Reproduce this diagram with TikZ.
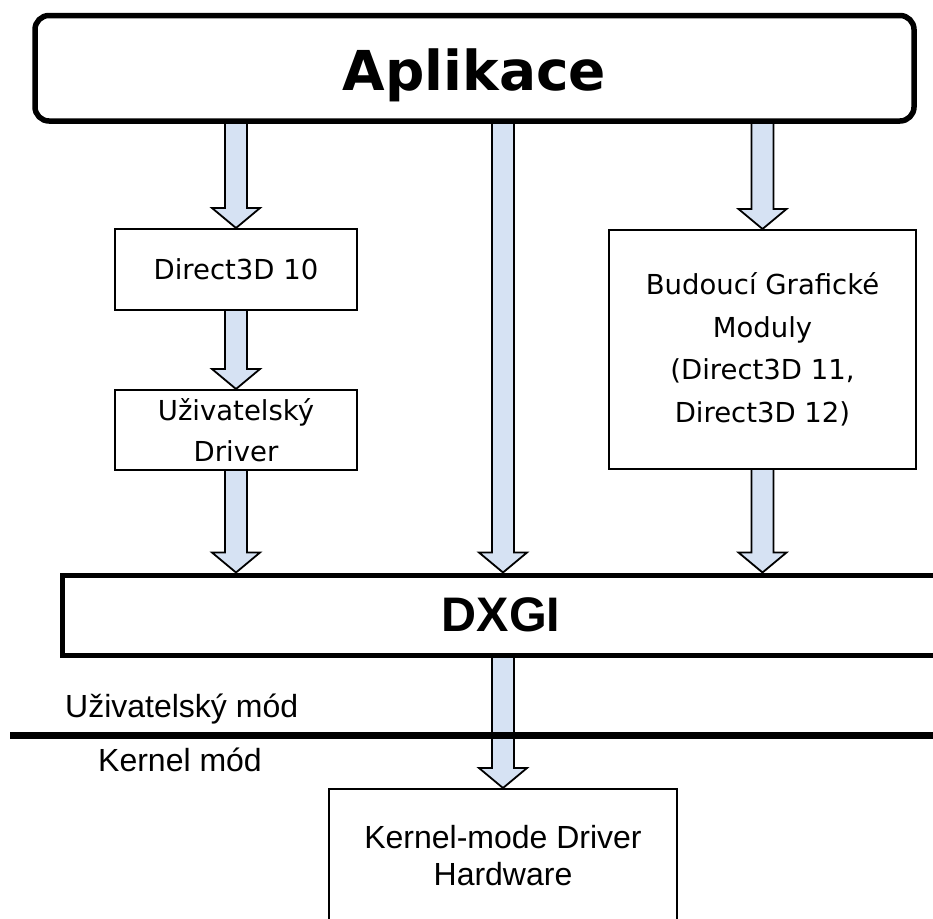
\documentclass[tikz,border=0pt]{standalone}
\usepackage{fontspec}
\setmainfont{DejaVu Sans}
\newfontfamily\arialf{Liberation Sans}
\usetikzlibrary{calc}
\pgfdeclarelayer{bg}
\pgfsetlayers{bg,main}
\definecolor{arrfill}{RGB}{214,226,243}
\tikzset{
  thinbox/.style={draw=black, line width=2pt, fill=white, inner sep=0pt, align=center,
    font=\fontsize{27.5}{41}\selectfont},
  thickbox/.style={draw=black, line width=5.5pt, fill=white, inner sep=0pt},
  blockarrow/.style={draw=black, line width=1.8pt, fill=arrfill, line join=miter},
  modelabel/.style={font=\arialf\fontsize{32}{37}\selectfont, inner sep=0pt, anchor=base west},
}
\newcommand\blockarr[2]{%
  \begin{pgfonlayer}{bg}
  \path[blockarrow] let \p1=#1, \p2=#2 in
    (\x2-11pt,\y1+3pt) -- (\x2-11pt,\y2+20pt) -- (\x2-24pt,\y2+20pt) -- (\x2,\y2)
    -- (\x2+24pt,\y2+20pt) -- (\x2+11pt,\y2+20pt) -- (\x2+11pt,\y1+3pt) -- cycle;
  \end{pgfonlayer}}
\begin{document}
\begin{tikzpicture}[x=1pt,y=-1pt]
\useasboundingbox (0,0) rectangle (933,918);
\clip (0,0) rectangle (933,918);

\node[thickbox, rounded corners=14pt, minimum width=879pt, minimum height=105.5pt,
  text height=44pt, text depth=0pt,
  font=\bfseries\fontsize{55}{60}\selectfont] (apl) at (474.5,68.25) {Aplikace};

\node[thinbox, minimum width=242pt, minimum height=81pt] (d3d) at (236,269.5) {Direct3D 10};
\node[thinbox, minimum width=242pt, minimum height=80pt] (udrv) at (236,430) {Uživatelský\\Driver};
\node[thinbox, minimum width=307pt, minimum height=239pt, font=\fontsize{27.5}{42.5}\selectfont]
  (bud) at (762.5,349.5) {Budoucí Grafické\\Moduly\\(Direct3D 11,\\Direct3D 12)};

\node[thickbox, line width=5pt, minimum width=878pt, minimum height=80pt,
  font=\arialf\bfseries\fontsize{48.5}{58}\selectfont] (dxgi) at (501,615) {DXGI};

\node[thinbox, minimum width=348pt, minimum height=134pt,
  font=\arialf\fontsize{32}{37}\selectfont] (kern) at (503,856) {Kernel-mode Driver\\Hardware};

\blockarr{(apl.south -| d3d.north)}{(d3d.north)}
\blockarr{(d3d.south)}{(udrv.north)}
\blockarr{(udrv.south)}{(dxgi.north -| udrv.south)}
\blockarr{(apl.south -| kern.north)}{(dxgi.north -| kern.north)}
\blockarr{(apl.south -| bud.north)}{(bud.north)}
\blockarr{(bud.south)}{(dxgi.north -| bud.south)}
\blockarr{(dxgi.south -| kern.north)}{(kern.north)}

\coordinate (sepL) at (10,735);
\coordinate (sepR) at (945,735);
\draw[line width=7pt] (sepL) -- (sepR);

\node[modelabel] (um) at (65,717) {Uživatelský mód};
\node[modelabel] (km) at (98,771) {Kernel mód};
\end{tikzpicture}
\end{document}
